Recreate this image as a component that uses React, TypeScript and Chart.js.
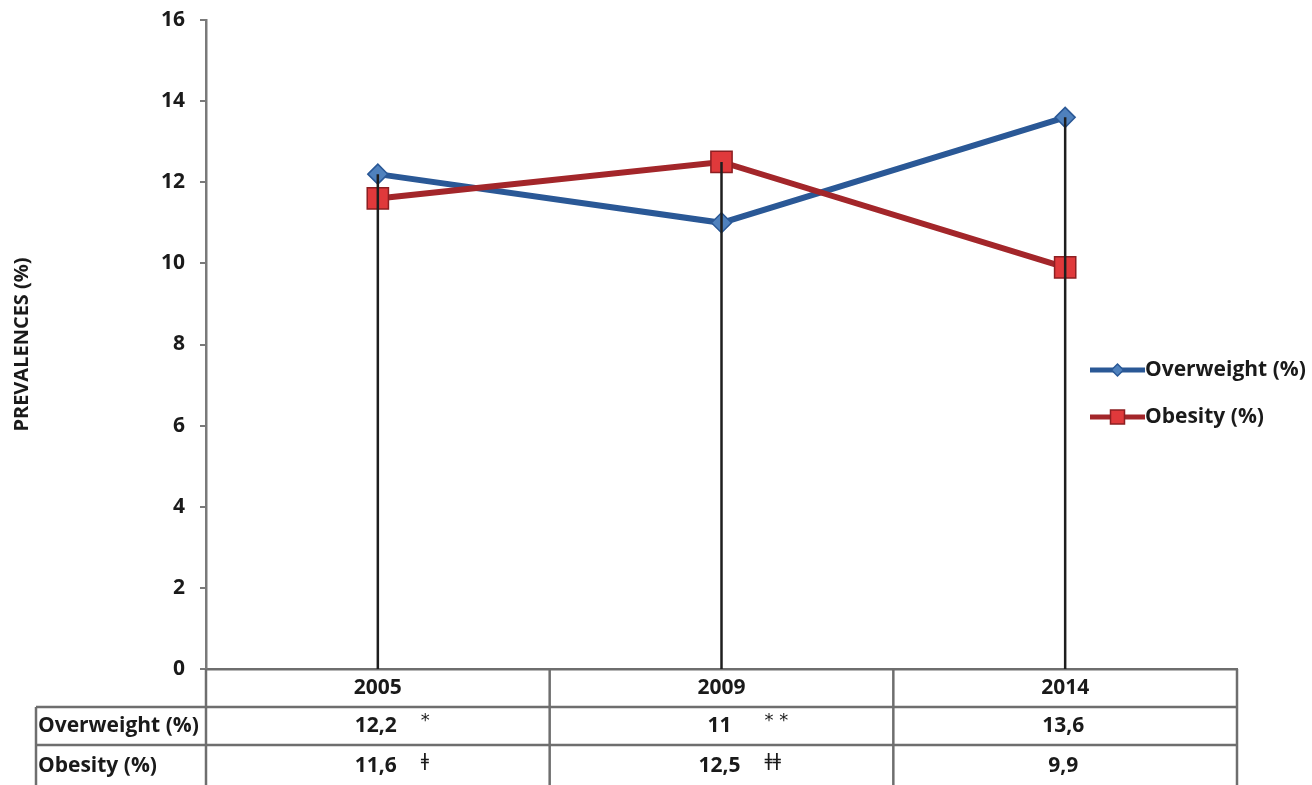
import React, { useEffect, useRef } from "react";
import { Chart, registerables } from "chart.js";

Chart.register(...registerables);

const years = ["2005", "2009", "2014"];
const seriesNames = ["Overweight (%)", "Obesity (%)"];
const overweight = [12.2, 11, 13.6];
const obesity = [11.6, 12.5, 9.9];
const overweightText = ["12,2", "11", "13,6"];
const obesityText = ["11,6", "12,5", "9,9"];
const overweightNotes = ["*", "* *", ""];
const obesityNotes = ["ǂ", "ǂǂ", ""];
const yMin = 0;
const yMax = 16;
const yStep = 2;

const FONT = "'Open Sans', Lato, sans-serif";
const TEXT = "#1a1a1a";
const TABLE_LINE = "#6e6e6e";
const BLUE_LINE = "#2a5896";
const BLUE_FILL = "#4f81bd";
const RED_LINE = "#a3262a";
const RED_FILL = "#e0393b";

const dropLines = {
  id: "dropLines",
  afterDatasetsDraw(chart: any) {
    const { ctx, scales } = chart;
    const x = scales.x;
    const y = scales.y;
    const d0 = chart.data.datasets[0].data as number[];
    const d1 = chart.data.datasets[1].data as number[];
    ctx.save();
    ctx.strokeStyle = "#1e1e1e";
    ctx.lineWidth = 2.5;
    for (let i = 0; i < d0.length; i++) {
      const px = x.getPixelForValue(i);
      const top = y.getPixelForValue(Math.max(d0[i], d1[i]));
      const bottom = y.getPixelForValue(0);
      ctx.beginPath();
      ctx.moveTo(px, top);
      ctx.lineTo(px, bottom);
      ctx.stroke();
    }
    ctx.restore();
  },
};

const dataTable = {
  id: "dataTable",
  afterDraw(chart: any) {
    const { ctx, chartArea, scales, height } = chart;
    const x = scales.x;
    const n = years.length;
    const left = chartArea.left;
    const right = chartArea.right;
    const colW = (right - left) / n;
    const top = chartArea.bottom;
    const rowH = 38;
    const labelLeft = 36;
    ctx.save();
    ctx.strokeStyle = TABLE_LINE;
    ctx.lineWidth = 2.5;
    [top + rowH, top + rowH * 2].forEach((yy) => {
      ctx.beginPath();
      ctx.moveTo(labelLeft, yy);
      ctx.lineTo(right, yy);
      ctx.stroke();
    });
    ctx.beginPath();
    ctx.moveTo(labelLeft, top + rowH);
    ctx.lineTo(labelLeft, height);
    ctx.stroke();
    for (let i = 0; i <= n; i++) {
      const xx = left + colW * i;
      ctx.beginPath();
      ctx.moveTo(xx, top);
      ctx.lineTo(xx, height);
      ctx.stroke();
    }
    ctx.fillStyle = TEXT;
    ctx.textBaseline = "middle";
    const rowsText = [overweightText, obesityText];
    const rowsNotes = [overweightNotes, obesityNotes];
    for (let i = 0; i < n; i++) {
      const cx = x.getPixelForValue(i);
      ctx.font = `bold 21px ${FONT}`;
      ctx.textAlign = "center";
      ctx.fillText(years[i], cx, top + rowH * 0.5);
      for (let r = 0; r < 2; r++) {
        const cy = top + rowH * (r + 1.5) + (r === 1 ? 2 : 0);
        ctx.font = `bold 21px ${FONT}`;
        ctx.textAlign = "center";
        ctx.fillText(rowsText[r][i], cx - 2, cy);
        const note = rowsNotes[r][i];
        if (note) {
          ctx.font = `18px 'DejaVu Sans', sans-serif`;
          ctx.textAlign = "left";
          ctx.fillText(note, cx + 43, cy - 5);
        }
      }
    }
    ctx.font = `bold 21px ${FONT}`;
    ctx.textAlign = "left";
    for (let r = 0; r < 2; r++) {
      const cy = top + rowH * (r + 1.5) + (r === 1 ? 2 : 0);
      ctx.fillText(seriesNames[r], labelLeft + 2, cy);
    }
    ctx.restore();
  },
};

const customLegend = {
  id: "customLegend",
  afterDraw(chart: any) {
    const { ctx } = chart;
    const x0 = 1090;
    const x1 = 1145;
    const ys = [370, 417];
    ctx.save();
    chart.data.datasets.forEach((ds: any, i: number) => {
      const yy = ys[i];
      ctx.strokeStyle = ds.borderColor;
      ctx.lineWidth = 5;
      ctx.beginPath();
      ctx.moveTo(x0, yy);
      ctx.lineTo(x1, yy);
      ctx.stroke();
      const cx = (x0 + x1) / 2;
      ctx.fillStyle = ds.pointBackgroundColor;
      ctx.strokeStyle = ds.pointBorderColor;
      ctx.lineWidth = 1.5;
      ctx.beginPath();
      if (ds.pointStyle === "rectRot") {
        const r = 6;
        ctx.moveTo(cx - r, yy);
        ctx.lineTo(cx, yy - r);
        ctx.lineTo(cx + r, yy);
        ctx.lineTo(cx, yy + r);
        ctx.closePath();
      } else {
        const s = 7;
        ctx.rect(cx - s, yy - s, 2 * s, 2 * s);
      }
      ctx.fill();
      ctx.stroke();
      ctx.fillStyle = TEXT;
      ctx.font = `bold 21px ${FONT}`;
      ctx.textAlign = "left";
      ctx.textBaseline = "middle";
      ctx.fillText(ds.label, x1, yy);
    });
    ctx.restore();
  },
};

export default function App() {
  const ref = useRef<HTMLCanvasElement | null>(null);
  useEffect(() => {
    document.body.style.margin = "0";
    const canvas = ref.current;
    if (!canvas) return;
    const chart = new Chart(canvas, {
      type: "line",
      data: {
        labels: years,
        datasets: [
          {
            label: seriesNames[0],
            data: overweight,
            borderColor: BLUE_LINE,
            borderWidth: 6,
            pointStyle: "rectRot",
            pointRadius: 10,
            pointHoverRadius: 10,
            pointBackgroundColor: BLUE_FILL,
            pointBorderColor: BLUE_LINE,
            pointBorderWidth: 1.5,
            tension: 0,
            order: 1,
          },
          {
            label: seriesNames[1],
            data: obesity,
            borderColor: RED_LINE,
            borderWidth: 6,
            pointStyle: "rect",
            pointRadius: 15,
            pointHoverRadius: 15,
            pointBackgroundColor: RED_FILL,
            pointBorderColor: "#8c1f22",
            pointBorderWidth: 1.5,
            tension: 0,
            order: 0,
          },
        ],
      },
      options: {
        animation: false,
        responsive: false,
        events: [],
        layout: { padding: { top: 20, right: 75, left: 0, bottom: 0 } },
        plugins: {
          legend: { display: false },
          tooltip: { enabled: false },
        },
        scales: {
          x: {
            type: "category",
            offset: true,
            ticks: { display: false },
            grid: { display: false, drawTicks: false },
            border: { display: true, color: TABLE_LINE, width: 2.5 },
            afterFit: (s: any) => {
              s.height = 116;
              s.paddingLeft = 0;
              s.paddingRight = 0;
            },
          },
          y: {
            min: yMin,
            max: yMax,
            ticks: {
              stepSize: yStep,
              color: TEXT,
              padding: 15,
              font: { family: FONT, weight: "bold", size: 21 },
            },
            grid: {
              drawOnChartArea: false,
              drawTicks: true,
              tickLength: 6,
              color: "#7a7a7a",
              lineWidth: 2,
            },
            border: { display: true, color: "#7a7a7a", width: 2.5 },
            title: {
              display: true,
              text: "PREVALENCES (%)",
              color: TEXT,
              font: { family: FONT, weight: "bold", size: 20 },
              padding: { top: 10, bottom: 0 },
            },
            afterFit: (s: any) => {
              s.width = 206;
              s.paddingTop = 0;
              s.paddingBottom = 0;
            },
          },
        },
      },
      plugins: [dropLines, dataTable, customLegend],
    });
    return () => chart.destroy();
  }, []);
  return (
    <div style={{ position: "absolute", left: 0, top: 0, width: 1312, height: 785, background: "#fff" }}>
      <canvas ref={ref} width={1312} height={785} style={{ display: "block" }} />
    </div>
  );
}
